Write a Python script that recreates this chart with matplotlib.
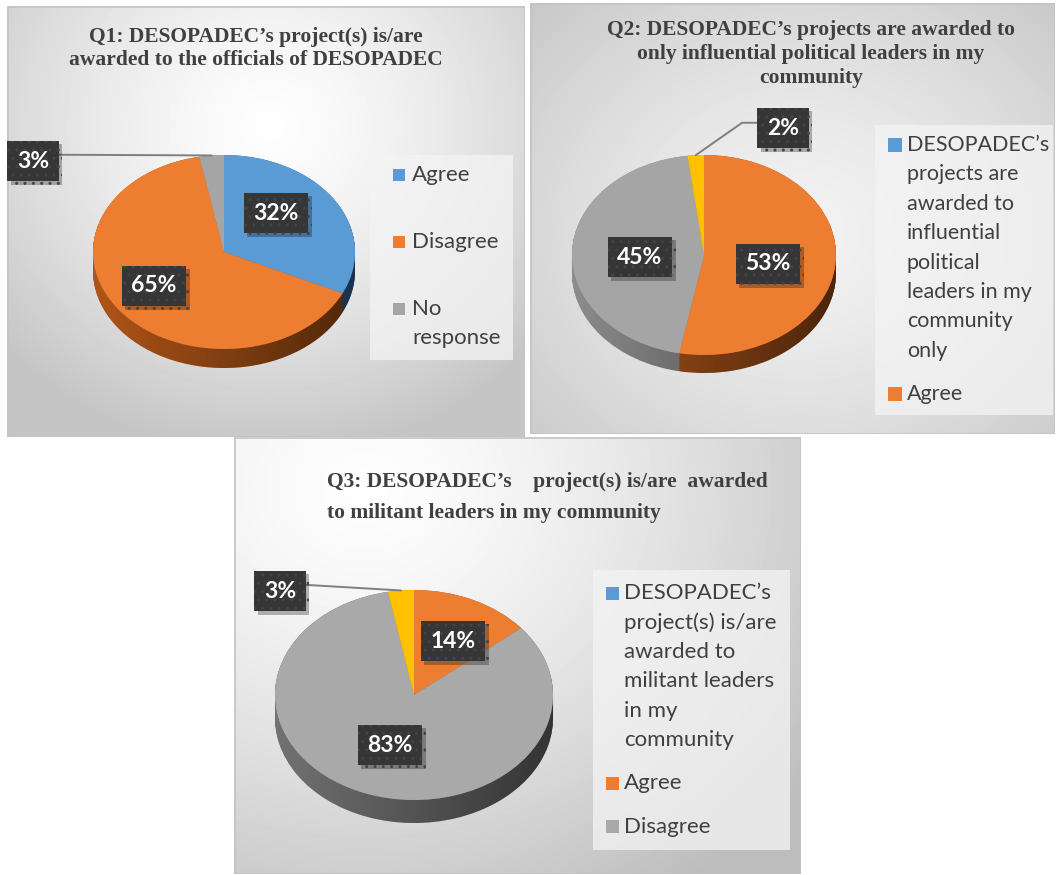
import numpy as np
import matplotlib
matplotlib.use('Agg')
import matplotlib.pyplot as plt
from matplotlib.patches import Rectangle, Polygon
import matplotlib.patheffects as pe

W, H = 1058, 875

# ---- data ----
q1_labels = ['Agree', 'Disagree', 'No\nresponse']
q1_values = [32, 65, 3]
q1_colors = ['#5b9bd5', '#ed7d31', '#a5a5a5']
q1_sides = ['#3a6ea5', '#b05518', '#8a8a8a']

q2_labels = ['DESOPADEC\u2019s\nprojects are\nawarded to\ninfluential\npolitical\nleaders in my\ncommunity\nonly',
             'Agree', 'Disagree', 'No response']
q2_values = [0, 53, 45, 2]
q2_colors = ['#5b9bd5', '#ed7d31', '#a5a5a5', '#ffc000']
q2_sides = ['#3a6ea5', '#a8521a', '#8c8c8c', '#b88a00']

q3_labels = ['DESOPADEC\u2019s\nproject(s) is/are\nawarded to\nmilitant leaders\nin my\ncommunity',
             'Agree', 'Disagree', 'No response']
q3_values = [0, 14, 83, 3]
q3_colors = ['#5b9bd5', '#ed7d31', '#a9a9a9', '#ffc000']
q3_sides = ['#3a6ea5', '#a8521a', '#727272', '#b88a00']

q1_title = ['Q1: DESOPADEC\u2019s project(s) is/are', 'awarded to the officials of DESOPADEC']
q2_title = ['Q2: DESOPADEC\u2019s projects are awarded to', 'only influential political leaders in my', 'community']
q3_title = ['Q3: DESOPADEC\u2019s    project(s) is/are  awarded', 'to militant leaders in my community']

plt.rcParams['font.family'] = ['Lato', 'DejaVu Sans']
TXT = '#404040'

fig = plt.figure(figsize=(W / 100, H / 100), dpi=100)
fig.patch.set_facecolor('white')


def frac(x0, y0, w, h):
    return [x0 / W, 1 - (y0 + h) / H, w / W, h / H]


def panel(x0, y0, w, h, cx, cy, rx, ry, vmax, vmin):
    ax = fig.add_axes(frac(x0, y0, w, h))
    yy, xx = np.mgrid[0:h, 0:w]
    d = np.sqrt(((xx - cx) / rx) ** 2 + ((yy - cy) / ry) ** 2)
    v = vmax - (vmax - vmin) * np.clip(d, 0, 1) ** 1.4
    ax.imshow(v, cmap='gray', vmin=0, vmax=1, extent=(0, w, h, 0),
              interpolation='bilinear', aspect='auto')
    ax.set_xlim(0, w)
    ax.set_ylim(h, 0)
    ax.axis('off')
    ax.add_patch(Rectangle((0.5, 0.5), w - 1, h - 1, fill=False, ec='#c4c4c4', lw=1.2))
    return ax


def pie3d(x0, y0, w, h, depth, values, colors, sides):
    ax = fig.add_axes(frac(x0, y0, w, h))
    b = (h - depth) / 2
    dy = depth / b
    for k in np.linspace(dy, 0.0, 30):
        ax.pie(values, colors=sides, startangle=90, counterclock=False,
               center=(0, -k), wedgeprops=dict(linewidth=0, zorder=1))
    # darken the rim from left to right
    shade = np.zeros((1, 256, 4))
    shade[..., 3] = np.linspace(0.0, 0.55, 256)
    im = ax.imshow(shade, extent=(-1, 1, -1 - dy, 0), aspect='auto', zorder=1.5,
                   interpolation='bilinear')
    t = np.linspace(np.pi, 2 * np.pi, 120)
    rim = np.c_[np.cos(t), np.sin(t)]
    poly = Polygon(np.vstack([rim, rim[::-1] - [0, dy]]), closed=True,
                   transform=ax.transData)
    im.set_clip_path(poly)
    wedges, _ = ax.pie(values, colors=colors, startangle=90, counterclock=False,
                       wedgeprops=dict(linewidth=0, zorder=2))
    ax.set_xlim(-1, 1)
    ax.set_ylim(-1 - dy, 1)
    ax.set_aspect('auto')
    return ax, wedges


def pie_labels(ax, wedges, values, positions, leaders):
    for w, v, pos, lead in zip(wedges, values, positions, leaders):
        if v == 0:
            continue
        ang = np.deg2rad((w.theta1 + w.theta2) / 2)
        tip = (np.cos(ang), np.sin(ang))
        arrow = None
        if lead is not None:
            arrow = dict(arrowstyle='-', color='#7f7f7f', lw=1.4, relpos=lead[0],
                         connectionstyle=lead[1], shrinkA=0, shrinkB=0)
        t = ax.annotate(f'{v}%', xy=tip, xycoords='data',
                        xytext=(pos[0] / W, 1 - pos[1] / H), textcoords='figure fraction',
                        ha='center', va='center', color='white', fontsize=16.5,
                        fontweight='bold', annotation_clip=False, arrowprops=arrow, zorder=5,
                        bbox=dict(boxstyle='square,pad=0.42', fc='#363636', ec='#444444',
                                  lw=0, hatch='..'))
        t.get_bbox_patch().set_path_effects([pe.SimplePatchShadow(offset=(2.5, -2.5), alpha=0.3),
                                             pe.Normal()])


def title(lines, x, ys, ha, size):
    for line, y in zip(lines, ys):
        top.text(x, y, line, ha=ha, va='center', fontsize=size, color=TXT,
                 family='Liberation Serif', fontweight='bold')


def legend(rect, labels, colors, sq_x, sq, txt_x, first, step, gap, size):
    x0, y0, x1, y1 = rect
    top.add_patch(Rectangle((x0, y0), x1 - x0, y1 - y0, fc='#f4f4f4', ec='none', alpha=0.75))
    y = first
    for lab, col in zip(labels, colors):
        top.add_patch(Rectangle((sq_x, y - sq / 2), sq, sq, fc=col, ec='none'))
        lines = lab.split('\n')
        for i, line in enumerate(lines):
            top.text(txt_x, y + i * step, line, ha='left', va='center',
                     fontsize=size, color=TXT)
        y += len(lines) * step + gap


# ---- panels ----
panel(7, 6, 518, 431, 262, 120, 360, 330, 0.995, 0.77)
ax1, w1 = pie3d(93, 155, 262, 213, 19, q1_values, q1_colors, q1_sides)
pie_labels(ax1, w1, q1_values, [(276, 213), (154, 286), (33, 161)],
           [None, None, ((1, 0.8), 'arc3')])

panel(530, 3, 525, 431, 270, 230, 380, 330, 0.95, 0.78)
ax2, w2 = pie3d(572, 155, 264, 218, 18, q2_values, q2_colors, q2_sides)
pie_labels(ax2, w2, q2_values, [None, (768, 264), (640, 257), (783, 128)],
           [None, None, None, ((0, 0.75), 'angle,angleA=0,angleB=35,rad=0')])

panel(234, 437, 567, 437, 130, 50, 560, 480, 0.995, 0.74)
ax3, w3 = pie3d(275, 590, 278, 233, 23, q3_values, q3_colors, q3_sides)
pie_labels(ax3, w3, q3_values, [None, (453, 641), (390, 745), (280, 591)],
           [None, None, None, ((1, 0.82), 'arc3')])

# ---- overlay for titles and legends ----
top = fig.add_axes([0, 0, 1, 1])
top.set_xlim(0, W)
top.set_ylim(H, 0)
top.axis('off')

title(q1_title, 256, [37, 60], 'center', 15.5)
title(q2_title, 811, [30, 54, 78], 'center', 15.5)
title(q3_title, 327, [482, 513], 'left', 15.5)

legend((370, 155, 513, 360), q1_labels, q1_colors, 393, 12, 412, 175, 29, 38, 16)
legend((875, 125, 1053, 415), q2_labels[:2], q2_colors[:2], 888, 14, 907, 145, 29.4, 13.6, 15.5)
legend((593, 570, 790, 850), q3_labels[:3], q3_colors[:3], 606, 13, 624, 593, 29.4, 14, 16)

fig.savefig('out.png', dpi=100)
